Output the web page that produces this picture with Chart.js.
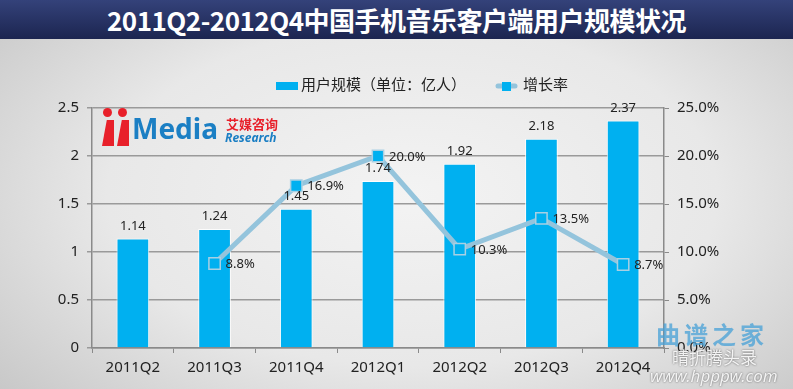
<!DOCTYPE html>
<html>
<head>
<meta charset="utf-8">
<script src="https://cdn.jsdelivr.net/npm/chart.js@4.4.0/dist/chart.umd.min.js"></script>
<style>
  body { margin: 0; }
  #wrap {
    position: relative; width: 793px; height: 389px; overflow: hidden;
    background: radial-gradient(ellipse 70% 80% at 52% 50%, #f3f3f3 0%, #e8e8e8 55%, #c6c6c6 100%);
    font-family: "Noto Sans", "Noto Sans CJK SC", sans-serif;
  }
  #title {
    position: absolute; left: 0; top: 0; width: 793px; height: 39px;
    background: linear-gradient(#34427a, #1c2550);
    color: #fff; font: bold 26px "Noto Sans CJK SC", sans-serif;
    text-align: center; line-height: 39px; letter-spacing: -0.5px;
  }
  #chart { position: absolute; left: 0; top: 0; }
  .logo { position: absolute; left: 101px; top: 108px; }
  .logo i { position: absolute; background: #e8202a; }
</style>
</head>
<body>
<div id="wrap">
  <canvas id="chart" width="793" height="389"></canvas>
  <div id="title">2011Q2-2012Q4中国手机音乐客户端用户规模状况</div>
  <div class="logo">
    <i style="left:2px;top:0;width:9px;height:9px;border-radius:50%;"></i>
    <i style="left:17px;top:0;width:9px;height:9px;border-radius:50%;"></i>
    <i style="left:1px;top:12px;width:12px;height:26px;clip-path:polygon(40% 0,100% 0,100% 100%,0 100%);"></i>
    <i style="left:16px;top:12px;width:12px;height:26px;clip-path:polygon(40% 0,100% 0,100% 100%,0 100%);"></i>
    <span style="position:absolute;left:31px;top:1px;font:bold 28px 'Noto Sans';color:#1b7fc4;">Media</span>
    <span style="position:absolute;left:125px;top:6px;font:bold 13px 'Noto Sans CJK SC';color:#e8202a;white-space:nowrap;">艾媒咨询</span>
    <span style="position:absolute;left:124px;top:21px;font:italic bold 12px 'Noto Sans';color:#1b7fc4;">Research</span>
  </div>
  <div style="position:absolute;left:656px;top:316px;font:bold 24px 'Noto Sans CJK SC';color:rgba(70,160,215,0.75);letter-spacing:4px;">曲谱之家</div>
  <div style="position:absolute;left:672px;top:344px;font:17px 'Noto Sans CJK SC';color:rgba(255,255,255,0.9);text-shadow:0 0 2px #555;">晴折腾头录</div>
  <div style="position:absolute;left:650px;top:364px;font:italic 17px 'Noto Sans';color:rgba(255,255,255,0.9);text-shadow:0 0 2px #555;">www.hpppw.com</div>
</div>
<script>
var ctx = document.getElementById('chart').getContext('2d');

var labels = ['2011Q2', '2011Q3', '2011Q4', '2012Q1', '2012Q2', '2012Q3', '2012Q4'];
var users = [1.14, 1.24, 1.45, 1.74, 1.92, 2.18, 2.37];
var growth = [null, 8.8, 16.9, 20.0, 10.3, 13.5, 8.7];

var fontFam = "'Noto Sans','Noto Sans CJK SC',sans-serif";

// value labels on bars and points
var valueLabels = {
  id: 'valueLabels',
  afterDatasetsDraw: function(chart) {
    var c = chart.ctx;
    c.save();
    c.fillStyle = '#222';
    c.font = '13px ' + fontFam;
    chart.getDatasetMeta(1).data.forEach(function(bar, i) {
      c.textAlign = 'center';
      c.textBaseline = 'bottom';
      c.fillText(users[i].toFixed(2), bar.x, bar.y - 6);
    });
    chart.getDatasetMeta(0).data.forEach(function(pt, i) {
      if (growth[i] == null) return;
      c.textAlign = 'left';
      c.textBaseline = 'middle';
      c.fillText(growth[i].toFixed(1) + '%', pt.x + 11, pt.y + 1);
    });
    c.restore();
  }
};

// legend drawn by hand to get the bar swatch and the line+square swatch
var legendPlugin = {
  id: 'legendPlugin',
  afterDraw: function(chart) {
    var c = chart.ctx;
    c.save();
    c.font = '15px ' + fontFam;
    c.fillStyle = '#00b0f0';
    c.fillRect(276, 82, 22, 8);
    c.fillStyle = '#222';
    c.textBaseline = 'middle';
    c.fillText('用户规模（单位：亿人）', 301, 86);
    c.strokeStyle = '#94c4dc';
    c.lineWidth = 5;
    c.lineCap = 'round';
    c.beginPath(); c.moveTo(498, 86); c.lineTo(515, 86); c.stroke();
    c.fillStyle = '#00b0f0';
    c.fillRect(502, 82, 9, 9);
    c.fillStyle = '#222';
    c.fillText('增长率', 523, 86);
    c.restore();
  }
};

var myChart = new Chart(ctx, {
  type: 'bar',
  data: {
    labels: labels,
    datasets: [{
      type: 'line',
      label: '增长率',
      data: growth,
      yAxisID: 'y1',
      borderColor: '#94c4dc',
      borderWidth: 5,
      pointStyle: 'rect',
      pointRadius: 8,
      pointBackgroundColor: '#00b0f0',
      pointBorderColor: '#a9d0e3',
      pointBorderWidth: 1.5,
      spanGaps: false,
      order: 0
    }, {
      label: '用户规模（单位：亿人）',
      data: users,
      yAxisID: 'y',
      backgroundColor: '#00b0f0',
      borderColor: 'rgba(255,255,255,0.85)',
      borderWidth: 1,
      categoryPercentage: 1,
      barPercentage: 0.4,
      order: 1
    }]
  },
  options: {
    responsive: false,
    animation: false,
    layout: { padding: { top: 108, left: 0, right: 0, bottom: 0 } },
    plugins: {
      legend: { display: false },
      tooltip: { enabled: false }
    },
    scales: {
      x: {
        afterFit: function(s) { s.height = 41; },
        grid: { drawOnChartArea: false, color: '#8a8a8a', tickLength: 5, offset: true },
        border: { color: '#8a8a8a', width: 1.5 },
        ticks: { color: '#222', font: { size: 15, family: fontFam }, padding: 6 }
      },
      y: {
        position: 'left',
        min: 0, max: 2.5,
        afterFit: function(s) { s.width = 92; },
        grid: { color: '#9a9a9a', lineWidth: 1.5, tickLength: 5 },
        border: { color: '#8a8a8a', width: 1.5 },
        ticks: { stepSize: 0.5, color: '#222', font: { size: 15, family: fontFam }, padding: 8,
          callback: function(v) { return v; } }
      },
      y1: {
        position: 'right',
        min: 0, max: 25,
        afterFit: function(s) { s.width = 129; },
        grid: { drawOnChartArea: false, color: '#8a8a8a', tickLength: 5 },
        border: { color: '#8a8a8a', width: 1.5 },
        ticks: { stepSize: 5, color: '#222', font: { size: 15, family: fontFam }, padding: 8,
          callback: function(v) { return v.toFixed(1) + '%'; } }
      }
    }
  },
  plugins: [valueLabels, legendPlugin]
});
</script>
</body>
</html>
